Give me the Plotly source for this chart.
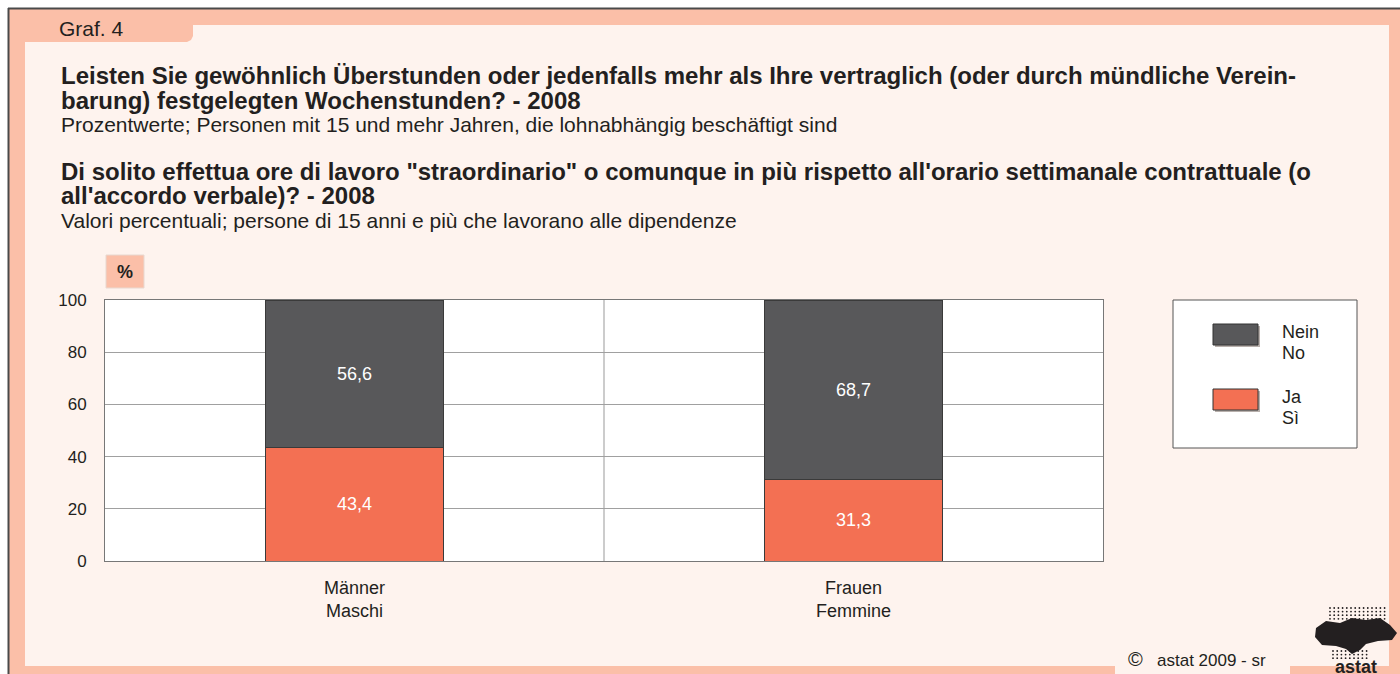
import plotly.graph_objects as go

# ---------------- data ----------------
categories = ["Männer<br>Maschi", "Frauen<br>Femmine"]
ja_values = [43.4, 31.3]
nein_values = [56.6, 68.7]
series_names = ["Ja<br>Sì", "Nein<br>No"]
y_ticks = [0, 20, 40, 60, 80, 100]

title_de_1 = "Leisten Sie gewöhnlich Überstunden oder jedenfalls mehr als Ihre vertraglich (oder durch mündliche Verein-"
title_de_2 = "barung) festgelegten Wochenstunden? - 2008"
sub_de = "Prozentwerte; Personen mit 15 und mehr Jahren, die lohnabhängig beschäftigt sind"
title_it_1 = "Di solito effettua ore di lavoro \"straordinario\" o comunque in più rispetto all'orario settimanale contrattuale (o"
title_it_2 = "all'accordo verbale)? - 2008"
sub_it = "Valori percentuali; persone di 15 anni e più che lavorano alle dipendenze"

# ---------------- style ----------------
W, H = 1400, 674
OFF = 0  # page margin removed below: screen coords == figure coords
L, R, T, B = 105, 1103, 300, 561  # plot area in screen pixels
SALMON = "#fbbfa8"
LIGHT = "#fef3ee"
DARK = "#58585a"
ORANGE = "#f37053"
TXT = "#231f20"
FONT = "Liberation Sans, Arial, sans-serif"


def fx(x):
    return (x - L) / (R - L)


def fy(y):
    return (B - y) / (B - T)


def fmt(v):
    return f"{v:.1f}".replace(".", ",")


fig = go.Figure()
fig.add_trace(go.Bar(
    x=categories, y=ja_values, name=series_names[0],
    marker=dict(color=ORANGE, line=dict(color="#3a3a3a", width=1)),
    text=[fmt(v) for v in ja_values], textposition="inside",
    insidetextanchor="middle", textfont=dict(color="white", size=18, family=FONT),
))
fig.add_trace(go.Bar(
    x=categories, y=nein_values, name=series_names[1],
    marker=dict(color=DARK, line=dict(color="#3a3a3a", width=1)),
    text=[fmt(v) for v in nein_values], textposition="inside",
    insidetextanchor="middle", textfont=dict(color="white", size=18, family=FONT),
))

shapes = []


def rect(x0, y0, x1, y1, fill, line=None, lw=0, layer="below"):
    shapes.append(dict(type="rect", xref="paper", yref="paper",
                       x0=fx(x0), x1=fx(x1), y0=fy(y1), y1=fy(y0),
                       fillcolor=fill, layer=layer,
                       line=dict(color=line or fill, width=lw)))


def pathshape(pts, fill, layer="below"):
    p = "M " + " L ".join(f"{fx(a)},{fy(b)}" for a, b in pts) + " Z"
    shapes.append(dict(type="path", xref="paper", yref="paper", path=p,
                       fillcolor=fill, line=dict(width=0), layer=layer))


# frame
rect(8, 8, 1420, 700, SALMON)
rect(25, 25, 1389, 666, LIGHT)
# tab "Graf. 4"
pathshape([(25, 24), (193, 24), (193, 36), (191, 40), (187, 42), (25, 42)], SALMON)
# outer dark edge
shapes.append(dict(type="line", xref="paper", yref="paper", x0=fx(8.5), x1=fx(8.5),
                   y0=fy(8), y1=fy(700), line=dict(color="#4a4a4a", width=2), layer="below"))
shapes.append(dict(type="line", xref="paper", yref="paper", x0=fx(8), x1=fx(1420),
                   y0=fy(8.5), y1=fy(8.5), line=dict(color="#4a4a4a", width=2), layer="below"))
# copyright bubble
pathshape([(1115, 680), (1115, 654), (1119, 650), (1286, 650), (1290, 654), (1290, 680)], LIGHT)
# plot area white
rect(L, T, R, B, "white")
# % box
rect(106, 255, 144, 288, SALMON, line="#e8d8d0", lw=1)
# legend box
rect(1173, 300, 1357, 448, "white", line="#555555", lw=1)
# legend swatches with shadow
rect(1215, 326, 1260, 347, "#b8b0ac")
rect(1213, 324, 1258, 345, DARK, line="#333333", lw=1)
rect(1215, 391, 1260, 412, "#b8b0ac")
rect(1213, 389, 1258, 410, ORANGE, line="#333333", lw=1)
# category divider
shapes.append(dict(type="line", xref="x", yref="paper", x0=0.5, x1=0.5, y0=0, y1=1,
                   line=dict(color="#999999", width=1), layer="below"))

# astat logo (decoration)
pathshape([(1316, 628), (1326, 621), (1340, 623), (1352, 618), (1366, 620), (1380, 618),
           (1390, 625), (1397, 633), (1392, 640), (1378, 641), (1366, 644), (1360, 650),
           (1352, 654), (1346, 649), (1336, 646), (1322, 645), (1315, 637)], "#231f20",
          layer="above")
for row in range(4):
    for col in range(14):
        cx = 1330 + col * 4.2
        cy = 608 + row * 3.6
        shapes.append(dict(type="circle", xref="paper", yref="paper",
                           x0=fx(cx - 0.9), x1=fx(cx + 0.9), y0=fy(cy + 0.9), y1=fy(cy - 0.9),
                           fillcolor="#231f20", line=dict(width=0), layer="above"))
for row in range(3):
    for col in range(9):
        cx = 1333 + col * 4.2
        cy = 651 + row * 3.6
        shapes.append(dict(type="circle", xref="paper", yref="paper",
                           x0=fx(cx - 0.9), x1=fx(cx + 0.9), y0=fy(cy + 0.9), y1=fy(cy - 0.9),
                           fillcolor="#231f20", line=dict(width=0), layer="above"))

annotations = []


def text(x, y, s, size=16, bold=False, anchor="left", color=TXT):
    annotations.append(dict(
        xref="paper", yref="paper", x=fx(x), y=fy(y), text=f"<b>{s}</b>" if bold else s,
        showarrow=False, xanchor=anchor, yanchor="middle",
        font=dict(family=FONT, size=size, color=color)))


text(57, 28, "Graf. 4", 21)
text(59, 75, title_de_1, 24, bold=True)
text(59, 100, title_de_2, 24, bold=True)
text(59, 124, sub_de, 21)
text(59, 171, title_it_1, 24, bold=True)
text(59, 195, title_it_2, 24, bold=True)
text(59, 220, sub_it, 21)
text(125, 272, "%", 18, bold=True, anchor="center")
text(1280, 332, "Nein", 18)
text(1280, 353, "No", 18)
text(1280, 397, "Ja", 18)
text(1280, 418, "Sì", 18)
text(1126, 659, "©", 20)
text(1155, 660, "astat 2009 - sr", 17)
text(1356, 667, "astat", 18, bold=True, anchor="center")

fig.update_layout(
    width=W, height=H,
    margin=dict(l=L - OFF, r=W - (R - OFF), t=T - OFF, b=H - (B - OFF), pad=0),
    paper_bgcolor="white", plot_bgcolor="white",
    barmode="stack", bargap=0.643, showlegend=False,
    shapes=shapes, annotations=annotations,
    font=dict(family=FONT, color=TXT),
    xaxis=dict(type="category", showgrid=False, showline=True, mirror=True,
               linecolor="#777777", linewidth=1, ticks="", ticklabelstandoff=10,
               tickfont=dict(size=18, color=TXT, family=FONT)),
    yaxis=dict(range=[0, 100], tickvals=y_ticks, showgrid=True, gridcolor="#a0a0a0",
               gridwidth=1, showline=True, mirror=True, linecolor="#777777",
               linewidth=1, ticks="", ticklabelstandoff=14, zeroline=False,
               tickfont=dict(size=17, color=TXT, family=FONT)),
)

fig.write_html(
    "out.html",
    config={"displayModeBar": False},
    post_script="document.body.style.margin='0';"
                "document.documentElement.style.overflow='hidden';"
                "document.body.style.overflow='hidden';",
)
